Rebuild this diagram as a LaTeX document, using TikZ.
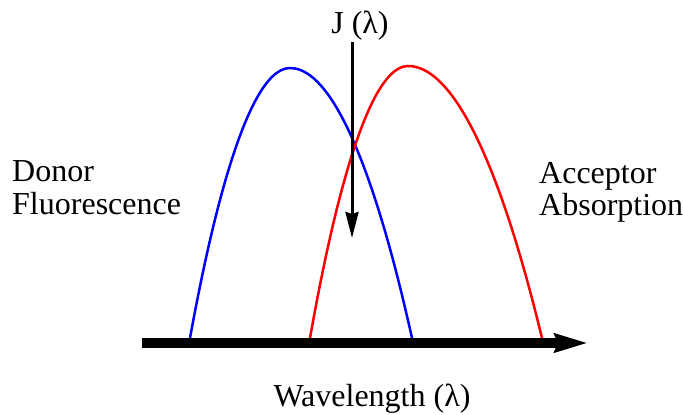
\documentclass[tikz,border=0pt]{standalone}
\usepackage{fontspec}
\setmainfont{Liberation Serif}
\usetikzlibrary{arrows.meta}
\begin{document}
\begin{tikzpicture}[x=1pt,y=-1pt,
  lbl/.style={font=\fontsize{32}{32.5}\selectfont, inner sep=0pt, align=left},
  curve/.style={line width=2.5pt},
  axis/.style={line width=10pt, -{Stealth[length=33pt,width=18pt,inset=3pt]}},
  jarrow/.style={line width=3pt, -{Stealth[length=26pt,width=13pt,inset=2pt]}}]
\useasboundingbox (0,0) rectangle (683,415);
% curves
\draw[curve, blue] (190,338) parabola bend (290,68) (412,338);
\draw[curve, red] (310,338) parabola bend (408,66) (542,338);
% axis
\coordinate (axstart) at (142,343);
\coordinate (axend) at (588,343);
\draw[axis] (axstart) -- (axend);
% J arrow
\coordinate (jtop) at (352,42);
\coordinate (jtip) at (352,238);
\draw[jarrow] (jtop) -- (jtip);
% labels
\node[lbl, anchor=base] (J) at (360,33) {J (λ)};
\node[lbl, anchor=base] (wl) at (372,406) {Wavelength (λ)};
\node[lbl, anchor=west] (donor) at (12,187.5) {Donor\\Fluorescence};
\node[lbl, anchor=west] (acc) at (539,192.5) {Acceptor\\Absorption};
\end{tikzpicture}
\end{document}
